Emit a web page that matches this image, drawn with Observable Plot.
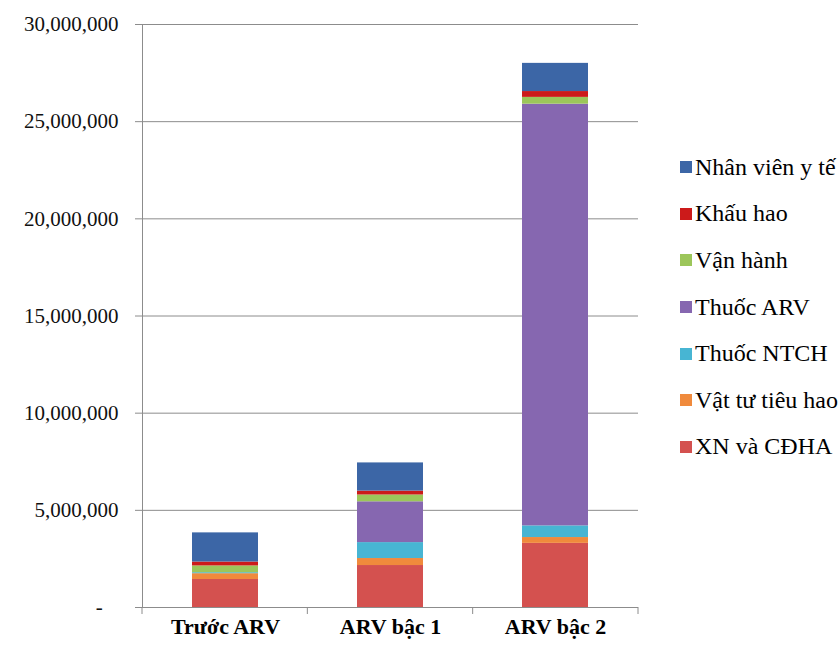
<!DOCTYPE html>
<html>
<head>
<meta charset="utf-8">
<script src="https://cdn.jsdelivr.net/npm/d3@7"></script>
<script src="https://cdn.jsdelivr.net/npm/@observablehq/plot@0.6"></script>
<style>
  html, body { margin: 0; padding: 0; background: #fff; }
  #wrap { position: relative; width: 839px; height: 648px; font-family: 'Liberation Serif', serif; }
  #wrap svg text { font-family: 'Liberation Serif', serif !important; }
  #legend { position: absolute; left: 680px; top: 144px; font-family: 'Liberation Serif', serif; }
  .row { height: 46.6px; display: flex; align-items: center; font-size: 24px; color: #000; white-space: nowrap; font-family: 'Liberation Serif', serif; }
  .sw { width: 12px; height: 12px; margin-right: 3px; flex: none; }
</style>
</head>
<body>
<div id="wrap"></div>
<script>
// Cost components per treatment stage (VND)
const categories = ["Trước ARV", "ARV bậc 1", "ARV bậc 2"];
const series = ["XN và CĐHA", "Vật tư tiêu hao", "Thuốc NTCH", "Thuốc ARV", "Vận hành", "Khấu hao", "Nhân viên y tế"];
const colors = ["#D4514F", "#F08A3C", "#47B5D3", "#8667B0", "#9CC65A", "#CC1A1A", "#3C66A6"];

const xnCdha    = [1440000, 2160000, 3300000];
const vatTu     = [300000, 360000, 300000];
const thuocNtch = [50000, 820000, 600000];
const thuocArv  = [0, 2100000, 21700000];
const vanHanh   = [350000, 350000, 350000];
const khauHao   = [200000, 200000, 300000];
const nhanVien  = [1500000, 1450000, 1450000];

const yTicks = [0, 5000000, 10000000, 15000000, 20000000, 25000000, 30000000];

const seriesValues = [xnCdha, vatTu, thuocNtch, thuocArv, vanHanh, khauHao, nhanVien];
const rows = [];
series.forEach((s, i) => {
  categories.forEach((c, j) => rows.push({stage: c, item: s, value: seriesValues[i][j]}));
});

const serif = "'Liberation Serif', serif";
const axisGray = "#8c8c8c";

// Small tick marks on the category axis, at the borders between stages
function categoryBorders(index, scales, values, dims) {
  const {width, height, marginLeft, marginRight, marginBottom} = dims;
  const n = categories.length;
  const step = (width - marginLeft - marginRight) / n;
  const g = d3.create("svg:g").attr("stroke", axisGray);
  const y0 = height - marginBottom;
  for (let i = 0; i <= n; i++) {
    const x = marginLeft + i * step;
    g.append("line").attr("x1", x).attr("x2", x).attr("y1", y0).attr("y2", y0 + 7);
  }
  return g.node();
}

function draw() {
  const chart = Plot.plot({
    width: 839,
    height: 648,
    marginLeft: 142,
    marginRight: 201,
    marginTop: 24,
    marginBottom: 41,
    style: {background: "#fff", fontFamily: serif},
    x: {domain: categories, paddingInner: 0.6, paddingOuter: 0.3, axis: null},
    y: {domain: [0, 30000000], axis: null},
    color: {domain: series, range: colors},
    marks: [
      Plot.gridY({ticks: yTicks, stroke: axisGray, strokeOpacity: 1}),
      Plot.barY(rows, {x: "stage", y: "value", fill: "item"}),
      Plot.frame({anchor: "left", stroke: axisGray}),
      Plot.ruleY([0], {stroke: axisGray}),
      Plot.axisY({
        ticks: yTicks, tickSize: 7, tickPadding: 17, stroke: axisGray, fill: "#111",
        fontSize: 21, fontFamily: serif, label: null,
        tickFormat: d => d === 0 ? "-\u00a0\u00a0\u00a0" : d3.format(",")(d)
      }),
      Plot.axisX({tickSize: 0, tickPadding: 11, fontSize: 22, fontWeight: "bold", fontFamily: serif, fill: "#000", label: null}),
      categoryBorders
    ]
  });

  const wrap = document.getElementById("wrap");
  wrap.appendChild(chart);

  // Legend, top entry first
  const legend = document.createElement("div");
  legend.id = "legend";
  series.slice().reverse().forEach(s => {
    const row = document.createElement("div");
    row.className = "row";
    const sw = document.createElement("span");
    sw.className = "sw";
    sw.style.background = colors[series.indexOf(s)];
    row.appendChild(sw);
    row.appendChild(document.createTextNode(s));
    legend.appendChild(row);
  });
  wrap.appendChild(legend);
}

// Make sure the serif faces are ready before the text is laid out
Promise.all([
  document.fonts.load("21px 'Liberation Serif'", "Trước ARV 0123456789"),
  document.fonts.load("bold 22px 'Liberation Serif'", "Trước ARV bậc 12")
]).then(draw, draw);
</script>
</body>
</html>
